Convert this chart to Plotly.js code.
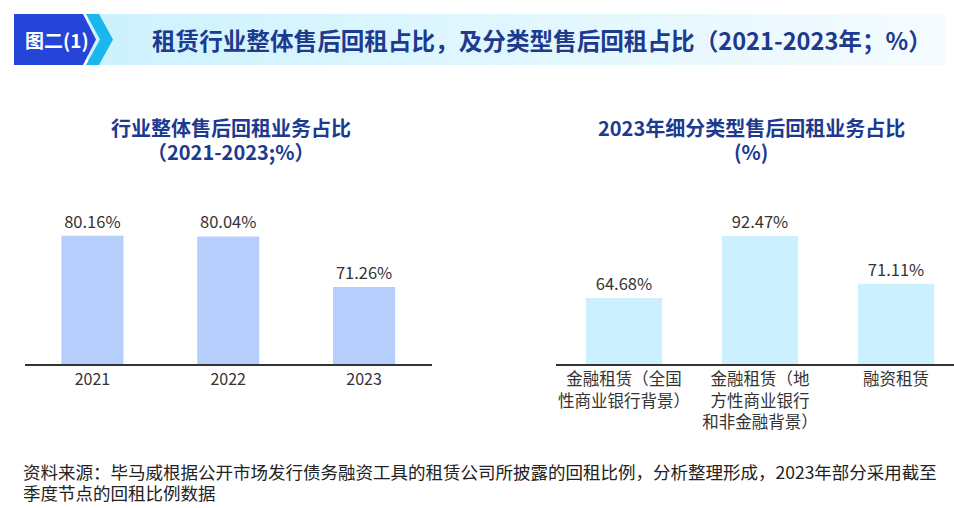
<!DOCTYPE html>
<html>
<head>
<meta charset="utf-8">
<script src="https://cdn.plot.ly/plotly-3.0.1.min.js"></script>
<style>html,body{margin:0;padding:0;background:#fff;}#chart{width:954px;height:508px;}</style>
</head>
<body>
<div id="chart"></div>
<script>
// ---- data ----
const leftCategories = ['2021', '2022', '2023'];
const leftValues = [80.16, 80.04, 71.26];
const rightCategories = [
  '金融租赁（全国<br>性商业银行背景）',
  '金融租赁（地<br>方性商业银行<br>和非金融背景）',
  '融资租赁'
];
const rightValues = [64.68, 92.47, 71.11];

const W = 954, H = 508;
const px = x => x / W;
const py = y => 1 - y / H;
const FONT = '"Noto Sans CJK SC", "Noto Sans", sans-serif';
const NAVY = '#1d3a8f';

const traces = [
  {
    type: 'bar', x: leftCategories, y: leftValues,
    xaxis: 'x', yaxis: 'y',
    width: 0.457,
    marker: {color: '#b5cefb'},
    text: leftValues.map(v => v.toFixed(2) + '%'),
    textposition: 'outside',
    textfont: {size: 16.5, color: '#333', family: FONT},
    hoverinfo: 'none'
  },
  {
    type: 'bar', x: rightCategories, y: rightValues,
    xaxis: 'x2', yaxis: 'y2',
    width: 0.56,
    marker: {color: '#ccf0fd'},
    text: rightValues.map(v => v.toFixed(2) + '%'),
    textposition: 'outside',
    textfont: {size: 16.5, color: '#333', family: FONT},
    hoverinfo: 'none'
  }
];

// banner shapes
const shapes = [];
const gx0 = 88, gx1 = 945, steps = 40;
const c0 = [205, 242, 253], c1 = [244, 251, 255];
for (let i = 0; i < steps; i++) {
  const t = i / (steps - 1);
  const c = c0.map((v, k) => Math.round(v + (c1[k] - v) * t));
  shapes.push({
    type: 'rect', xref: 'paper', yref: 'paper', layer: 'below',
    x0: px(gx0 + (gx1 - gx0) * i / steps), x1: px(gx0 + (gx1 - gx0) * (i + 1) / steps + 0.5),
    y0: py(65), y1: py(14),
    fillcolor: 'rgb(' + c.join(',') + ')', line: {width: 0}
  });
}
function poly(pts) {
  return 'M' + pts.map(p => px(p[0]) + ',' + py(p[1])).join(' L') + ' Z';
}
shapes.push({
  type: 'path', xref: 'paper', yref: 'paper',
  path: poly([[86, 14], [99, 14], [113, 39.5], [99, 65], [86, 65], [100, 39.5]]),
  fillcolor: '#1bb6ee', line: {width: 0}
});
shapes.push({
  type: 'path', xref: 'paper', yref: 'paper',
  path: poly([[14, 14], [83, 14], [96, 39.5], [83, 65], [14, 65]]),
  fillcolor: '#2544d8', line: {width: 0}
});

function ann(text, x, y, size, color, xanchor) {
  return {text: text, x: px(x), y: py(y), xref: 'paper', yref: 'paper', showarrow: false,
    xanchor: xanchor || 'center', yanchor: 'middle',
    font: {size: size, color: color, family: FONT}};
}

const annotations = [
  ann('<b>图二(1)</b>', 57, 40, 19, '#fff'),
  ann('<b>租赁行业整体售后回租占比，及分类型售后回租占比（2021-2023年；%）</b>', 150, 40, 23.6, NAVY, 'left'),
  ann('<b>行业整体售后回租业务占比</b>', 231, 127, 20, NAVY),
  ann('<b>（2021-2023;%）</b>', 231, 151, 20, NAVY),
  ann('<b>2023年细分类型售后回租业务占比</b>', 751, 127, 20, NAVY),
  ann('<b>(%)</b>', 751, 151, 20, NAVY),
  ann('资料来源：毕马威根据公开市场发行债务融资工具的租赁公司所披露的回租比例，分析整理形成，2023年部分采用截至', 21, 471, 17.5, '#222', 'left'),
  ann('季度节点的回租比例数据', 21, 492, 17.5, '#222', 'left')
];

const axisCommon = {
  type: 'category',
  showgrid: false, zeroline: false, ticks: '', showline: true,
  linecolor: '#333', linewidth: 1.5, fixedrange: true,
  ticklabelstandoff: 0
};

const layout = {
  width: W, height: H,
  margin: {l: 0, r: 0, t: 0, b: 0},
  paper_bgcolor: '#fff', plot_bgcolor: 'rgba(0,0,0,0)',
  showlegend: false,
  font: {family: FONT},
  xaxis: Object.assign({}, axisCommon, {domain: [px(24.5), px(432)], range: [-0.5, 2.5], anchor: 'y',
    tickfont: {size: 16, color: '#333', family: FONT}}),
  yaxis: {domain: [py(364), py(100)], range: [57.9, 103.7], visible: false, fixedrange: true},
  xaxis2: Object.assign({}, axisCommon, {domain: [px(556), 1], range: [-0.5, 2.426], anchor: 'y2',
    tickfont: {size: 16.5, color: '#333', family: FONT}}),
  yaxis2: {domain: [py(364), py(100)], range: [35.1, 153.4], visible: false, fixedrange: true, anchor: 'x2'},
  shapes: shapes,
  annotations: annotations
};

Plotly.newPlot('chart', traces, layout, {displayModeBar: false, staticPlot: true});
</script>
</body>
</html>
